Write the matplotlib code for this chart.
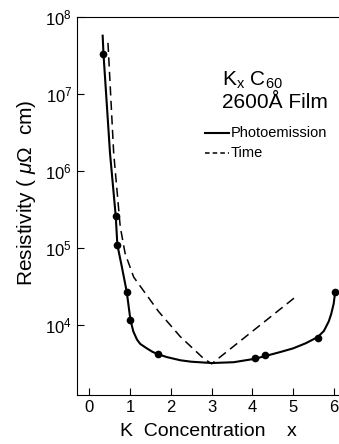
import matplotlib
matplotlib.use("Agg")
from matplotlib import pyplot as plt

plt.rcParams['font.family'] = ['Liberation Sans', 'DejaVu Sans']
plt.rcParams['mathtext.fontset'] = 'custom'
plt.rcParams['mathtext.rm'] = 'Liberation Sans'
plt.rcParams['mathtext.it'] = 'Liberation Sans:italic'

# photoemission curve
photoX = [0.33, 0.35, 0.51, 0.65, 0.69, 0.80, 0.92, 1.01, 1.08, 1.17, 1.25, 1.41, 1.55, 1.68, 1.90,
          2.23, 2.50, 3.0, 3.54, 4.05, 4.30, 4.70, 5.0, 5.3, 5.6, 5.75, 5.87, 5.93, 5.99, 6.03]
photoY = [5.7e7, 3.3e7, 1.7e6, 2.6e5, 1.1e5, 5.7e4, 2.7e4, 1.17e4, 8.3e3, 6.5e3, 5.7e3, 5.0e3, 4.5e3,
          4.2e3, 3.85e3, 3.5e3, 3.35e3, 3.22e3, 3.3e3, 3.65e3, 3.95e3, 4.5e3, 5.0e3, 5.8e3, 7.0e3,
          8.4e3, 1.12e4, 1.4e4, 1.9e4, 2.8e4]

# measured points
dotX = [0.35, 0.65, 0.69, 0.92, 1.01, 1.68, 4.05, 4.30, 5.6, 6.01]
dotY = [3.3e7, 2.6e5, 1.1e5, 2.7e4, 1.17e4, 4.2e3, 3.7e3, 4.1e3, 6.9e3, 2.7e4]

# time curve
timeX = [0.46, 0.60, 0.76, 0.88, 1.09, 1.25, 1.70, 2.23, 2.80, 3.0, 5.09]
timeY = [4.6e7, 1.7e6, 1.9e5, 8.5e4, 4.2e4, 3.2e4, 1.5e4, 7.1e3, 3.7e3, 3.15e3, 2.4e4]

xTicks = [0, 1, 2, 3, 4, 5, 6]
yTicks = [1e4, 1e5, 1e6, 1e7, 1e8]
yTickLabels = ['$10^{4}$', '$10^{5}$', '$10^{6}$', '$10^{7}$', '$10^{8}$']

fig = plt.figure(figsize=(3.39, 4.44), dpi=100)
ax = fig.add_axes([0.227, 0.110, 0.773, 0.852])

ax.plot(photoX, photoY, color='black', linewidth=1.5, solid_joinstyle='round')
ax.plot(timeX, timeY, color='black', linewidth=1.1, linestyle=(0, (6, 3.5)))
ax.plot(dotX, dotY, 'o', color='black', markersize=4.5)

ax.set_yscale('log')
ax.set_xlim(-0.3, 6.12)
ax.set_ylim(1233, 1e8)
ax.set_xticks(xTicks)
ax.set_yticks(yTicks)
ax.set_yticklabels(yTickLabels)
ax.minorticks_off()
ax.tick_params(direction='in', length=5, width=0.8, labelsize=12)
ax.spines['right'].set_visible(False)

ax.set_xlabel('K  Concentration    x', fontsize=14, labelpad=6)
ax.set_ylabel(r'Resistivity ( $\mu\Omega$  cm)', fontsize=15)
ax.yaxis.set_label_coords(-0.15, 0.534)

fig.text(222 / 339, 1 - 80 / 444, r'K$_\mathregular{x}$ C$_\mathregular{60}$', fontsize=15,
         va='center', ha='left')
fig.text(222 / 339, 1 - 102 / 444, '2600Å Film', fontsize=15, va='center', ha='left')

# legend drawn as lines + text
fig.lines.append(plt.Line2D([205 / 339, 229 / 339], [1 - 133 / 444, 1 - 133 / 444],
                            transform=fig.transFigure, color='black', linewidth=1.5))
fig.lines.append(plt.Line2D([205 / 339, 229 / 339], [1 - 153 / 444, 1 - 153 / 444],
                            transform=fig.transFigure, color='black', linewidth=1.1,
                            linestyle=(0, (3, 2))))
fig.text(231 / 339, 1 - 133 / 444, 'Photoemission', fontsize=10.5, va='center', ha='left')
fig.text(231 / 339, 1 - 153 / 444, 'Time', fontsize=10.5, va='center', ha='left')

fig.savefig('out.png', dpi=100)
